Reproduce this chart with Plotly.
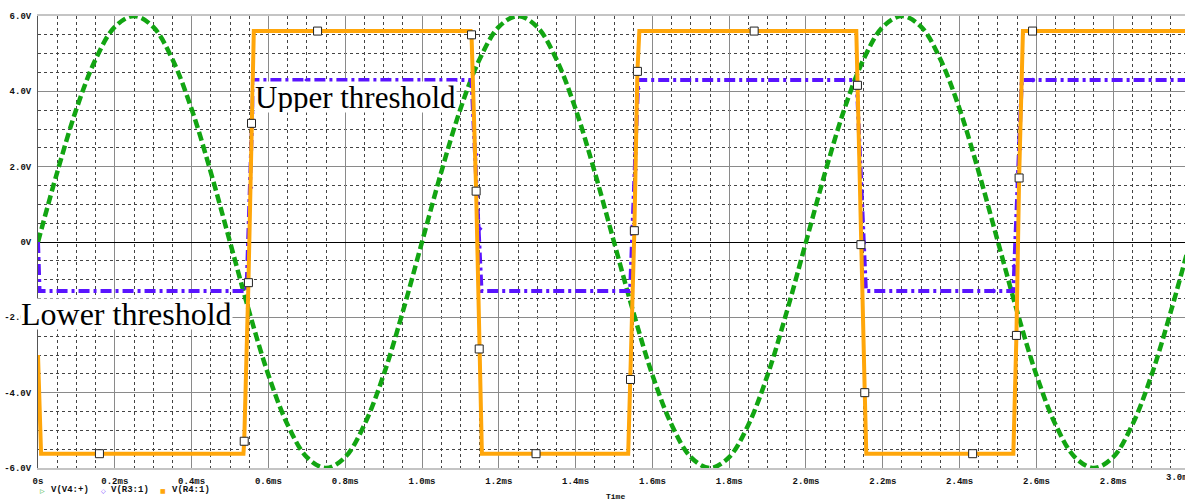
import plotly.graph_objects as go

# ---- data (time in ms, voltage in V) ----
v4_t = [0.00, 0.05, 0.10, 0.15, 0.20, 0.25, 0.30, 0.35, 0.40, 0.45,
        0.50, 0.55, 0.60, 0.65, 0.70, 0.75, 0.80, 0.85, 0.90, 0.95,
        1.00, 1.05, 1.10, 1.15, 1.20, 1.25, 1.30, 1.35, 1.40, 1.45,
        1.50, 1.55, 1.60, 1.65, 1.70, 1.75, 1.80, 1.85, 1.90, 1.95,
        2.00, 2.05, 2.10, 2.15, 2.20, 2.25, 2.30, 2.35, 2.40, 2.45,
        2.50, 2.55, 2.60, 2.65, 2.70, 2.75, 2.80, 2.85, 2.90, 2.95, 3.00]
v4_v = [0.00, 1.85, 3.53, 4.85, 5.71, 6.00, 5.71, 4.85, 3.53, 1.85,
        0.00, -1.85, -3.53, -4.85, -5.71, -6.00, -5.71, -4.85, -3.53, -1.85,
        0.00, 1.85, 3.53, 4.85, 5.71, 6.00, 5.71, 4.85, 3.53, 1.85,
        0.00, -1.85, -3.53, -4.85, -5.71, -6.00, -5.71, -4.85, -3.53, -1.85,
        0.00, 1.85, 3.53, 4.85, 5.71, 6.00, 5.71, 4.85, 3.53, 1.85,
        0.00, -1.85, -3.53, -4.85, -5.71, -6.00, -5.71, -4.85, -3.53, -1.85, 0.00]

r3_t = [0.000, 0.004, 0.543, 0.561, 1.129, 1.155, 1.542, 1.563, 2.132, 2.156, 2.540, 2.562, 3.000]
r3_v = [0.0, -1.3, -1.3, 4.3, 4.3, -1.3, -1.3, 4.3, 4.3, -1.3, -1.3, 4.3, 4.3]
r3_mark_t = [0.554, 0.558, 0.700, 0.912, 1.141, 1.151, 1.556, 1.563, 2.143, 2.488, 2.542, 2.557, 2.591]
r3_mark_v = [1.44, 3.56, 4.30, 4.30, 2.32, 0.35, 1.92, 4.07, 1.73, -1.30, -0.64, 2.46, 4.30]

r4_t = [0.000, 0.008, 0.535, 0.537, 0.548, 0.556, 0.562,
        1.127, 1.129, 1.141, 1.149, 1.156,
        1.537, 1.543, 1.553, 1.561, 1.566,
        2.131, 2.134, 2.143, 2.153, 2.157,
        2.540, 2.548, 2.555, 2.565, 3.000]
r4_v = [-3.0, -5.62, -5.62, -5.29, -1.08, 3.15, 5.6,
        5.6, 5.5, 1.35, -2.84, -5.62,
        -5.62, -3.65, 0.30, 4.53, 5.6,
        5.6, 4.16, -0.07, -4.00, -5.62,
        -5.62, -2.48, 1.70, 5.6, 5.6]
r4_mark_t = [0.160, 0.537, 0.548, 0.556, 0.728, 1.129, 1.141, 1.149, 1.297,
             1.543, 1.553, 1.561, 1.865, 2.134, 2.143, 2.153, 2.434, 2.548, 2.555, 2.590]
r4_mark_v = [-5.62, -5.29, -1.08, 3.15, 5.6, 5.5, 1.35, -2.84, -5.62,
             -3.65, 0.30, 4.53, 5.6, 4.16, -0.07, -4.00, -5.62, -2.48, 1.70, 5.6]

x_tick_vals = [0.0, 0.2, 0.4, 0.6, 0.8, 1.0, 1.2, 1.4, 1.6, 1.8, 2.0, 2.2, 2.4, 2.6, 2.8]
x_tick_text = ["0s", "0.2ms", "0.4ms", "0.6ms", "0.8ms", "1.0ms", "1.2ms", "1.4ms",
               "1.6ms", "1.8ms", "2.0ms", "2.2ms", "2.4ms", "2.6ms", "2.8ms"]
y_tick_vals = [6, 4, 2, 0, -2, -4, -6]
y_tick_text = ["6.0V", "4.0V", "2.0V", "0V", "-2.0V", "-4.0V", "-6.0V"]
series_names = ["V(V4:+)", "V(R3:1)", "V(R4:1)"]

GREEN = "#12a512"
PURPLE = "#5a14ff"
ORANGE = "#ffa60a"
X_MAX = 2.987
L, T, B, W, H = 38, 16, 35, 1185, 503
PW, PH = W - L, H - T - B

fig = go.Figure()
fig.add_trace(go.Scatter(x=v4_t, y=v4_v, mode="lines", name=series_names[0],
                         line=dict(color=GREEN, width=4.5, dash="9px,4px", shape="spline")))
fig.add_trace(go.Scatter(x=r3_t, y=r3_v, mode="lines", name=series_names[1],
                         line=dict(color=PURPLE, width=4, dash="11px,4px,3px,4px")))
fig.add_trace(go.Scatter(x=r3_mark_t, y=r3_mark_v, mode="markers", showlegend=False,
                         marker=dict(symbol="diamond", size=4, color=PURPLE)))
fig.add_trace(go.Scatter(x=r4_t, y=r4_v, mode="lines", name=series_names[2],
                         line=dict(color=ORANGE, width=4)))
fig.add_trace(go.Scatter(x=r4_mark_t, y=r4_mark_v, mode="markers", showlegend=False,
                         marker=dict(symbol="square", size=8, color="white",
                                     line=dict(color="#222", width=1))))

tick_font = dict(family="Liberation Mono", size=9, color="#111", weight="bold")

fig.update_layout(
    width=W, height=H,
    margin=dict(l=L, r=0, t=T, b=B, autoexpand=False),
    paper_bgcolor="white", plot_bgcolor="white",
    showlegend=False,
    xaxis=dict(range=[0, X_MAX], tickvals=x_tick_vals, ticktext=x_tick_text,
               tickfont=tick_font, showgrid=True, gridcolor="#8a8a8a", gridwidth=1,
               zeroline=False, showline=True, linecolor="#c4c4c4", linewidth=2, mirror=True,
               ticks="", ticklabelstandoff=3, automargin=False,
               minor=dict(dtick=0.05, tick0=0, showgrid=True, gridcolor="#444",
                          griddash="dot", gridwidth=1)),
    yaxis=dict(range=[-6, 6], tickvals=y_tick_vals, ticktext=y_tick_text,
               tickfont=tick_font, showgrid=True, gridcolor="#8a8a8a", gridwidth=1,
               zeroline=True, zerolinecolor="#000", zerolinewidth=1,
               showline=True, linecolor="#555", linewidth=1, ticks="", ticklabelstandoff=4,
               automargin=False,
               minor=dict(dtick=0.5, tick0=0, showgrid=True, gridcolor="#444",
                          griddash="dot", gridwidth=1)),
)

def px_x(p):
    return (p - L) / PW

def px_y(p):
    return (H - B - p) / PH

annos = [
    dict(x=0.5625, y=3.84, xref="x", yref="y", text="Upper threshold", showarrow=False,
         xanchor="left", yanchor="middle", bgcolor="white", borderpad=0,
         height=30, valign="middle",
         font=dict(family="Liberation Serif", size=31, color="#000")),
    dict(x=0.508, y=-1.9, xref="x", yref="y", text="Lower threshold", showarrow=False,
         xanchor="right", yanchor="middle", bgcolor="white", borderpad=0,
         height=30, valign="middle",
         font=dict(family="Liberation Serif", size=32, color="#000")),
    dict(x=px_x(1164), y=px_y(478), xref="paper", yref="paper", text="3.0ms",
         showarrow=False, xanchor="left", yanchor="middle", font=tick_font),
    dict(x=px_x(615), y=px_y(496), xref="paper", yref="paper", text="Time",
         showarrow=False, xanchor="center", yanchor="middle",
         font=dict(family="Liberation Mono", size=8, color="#111", weight="bold")),
]
legend_cols = [GREEN, PURPLE, ORANGE]
legend_syms = ["▷", "◇", "■"]
legend_sym_x = [42, 103, 163]
legend_txt_x = [49, 109, 170]
for name, col, sym, sx, tx in zip(series_names, legend_cols, legend_syms, legend_sym_x, legend_txt_x):
    annos.append(dict(x=px_x(sx), y=px_y(490), xref="paper", yref="paper", showarrow=False,
                      xanchor="center", yanchor="middle", text=sym,
                      font=dict(family="DejaVu Sans", size=6, color=col)))
    annos.append(dict(x=px_x(tx), y=px_y(490), xref="paper", yref="paper", showarrow=False,
                      xanchor="left", yanchor="middle", text=name,
                      font=dict(family="Liberation Mono", size=9, color="#111", weight="bold")))
fig.update_layout(annotations=annos)

fig.write_html("out.html", config={"displayModeBar": False},
               post_script="document.body.style.margin='0';document.body.style.overflow='hidden';")
